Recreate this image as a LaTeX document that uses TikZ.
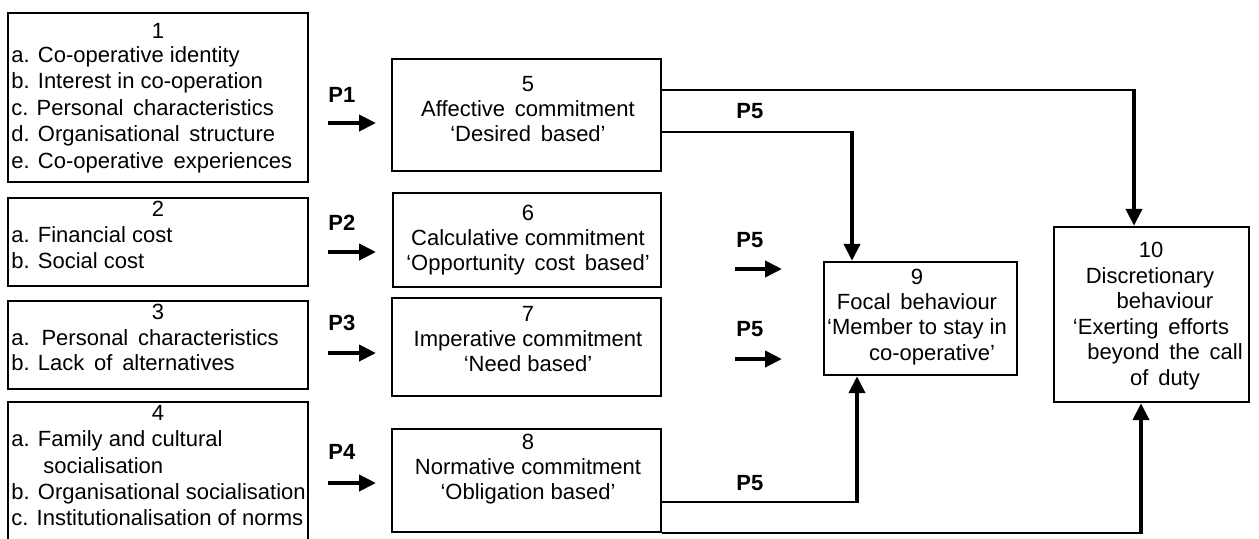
\documentclass[tikz,border=0pt]{standalone}
\usepackage{fontspec}
\setmainfont{Liberation Sans}
\usetikzlibrary{arrows.meta,fit}
\tikzset{
  box/.style={draw, line width=1.2pt, inner sep=0pt},
  txt/.style={inner sep=0pt, font=\fontsize{11}{13}\selectfont},
  plab/.style={inner sep=0pt, font=\fontsize{11}{13}\selectfont\bfseries},
  conn/.style={line width=0.9pt},
  harrow/.style={line width=2pt, -{Triangle[length=8.5pt,width=8pt]}},
}
\begin{document}
\begin{tikzpicture}[x=0.5pt,y=-0.5pt]
\useasboundingbox (0,0) rectangle (1259,538);
% ---- left boxes
\node[box, fit={(8,13) (308,182)}] (b1) {};
\node[box, fit={(8,198) (308,286)}] (b2) {};
\node[box, fit={(8,301) (308,389)}] (b3) {};
\node[box, fit={(8,402) (308,560)}] (b4) {};
% ---- middle boxes
\node[box, fit={(392,59) (661,171)}] (b5) {};
\node[box, fit={(393,193) (661,287)}] (b6) {};
\node[box, fit={(392,298) (661,396)}] (b7) {};
\node[box, fit={(392,429) (661,532)}] (b8) {};
% ---- right boxes
\node[box, fit={(824,262) (1017,375)}] (b9) {};
\node[box, fit={(1054,227) (1249,402)}] (b10) {};
% ---- texts box 1
\node[txt, anchor=mid] (t1n) at (158,33) {1};
\node[txt, anchor=mid west] (t1a) at (11,57) {a. Co-operative identity};
\node[txt, anchor=mid west] (t1b) at (11,83) {b. Interest in co-operation};
\node[txt, anchor=mid west] (t1c) at (11,110) {c. Personal\, characteristics};
\node[txt, anchor=mid west] (t1d) at (11,136) {d. Organisational\, structure};
\node[txt, anchor=mid west] (t1e) at (11,163) {e. Co-operative\, experiences};
% box 2
\node[txt, anchor=mid] (t2n) at (158,211) {2};
\node[txt, anchor=mid west] (t2a) at (11,237) {a. Financial cost};
\node[txt, anchor=mid west] (t2b) at (11,263) {b. Social cost};
% box 3
\node[txt, anchor=mid] (t3n) at (158,314) {3};
\node[txt, anchor=mid west] (t3a) at (11,340) {a.\, Personal\, characteristics};
\node[txt, anchor=mid west] (t3b) at (11,365) {b. Lack\, of\, alternatives};
% box 4
\node[txt, anchor=mid] (t4n) at (158,415) {4};
\node[txt, anchor=mid west] (t4a) at (11,441) {a. Family and cultural};
\node[txt, anchor=mid west] (t4a2) at (43,468) {socialisation};
\node[txt, anchor=mid west] (t4b) at (11,494) {b. Organisational socialisation};
\node[txt, anchor=mid west] (t4c) at (11,520) {c. Institutionalisation of norms};
% box 5..8
\node[txt, anchor=mid] (t5n) at (528,86) {5};
\node[txt, anchor=mid] (t5a) at (528,111) {Affective\, commitment};
\node[txt, anchor=mid] (t5b) at (528,136) {‘Desired\, based’};
\node[txt, anchor=mid] (t6n) at (528,215) {6};
\node[txt, anchor=mid] (t6a) at (528,240) {Calculative commitment};
\node[txt, anchor=mid] (t6b) at (528,265) {‘Opportunity\, cost\, based’};
\node[txt, anchor=mid] (t7n) at (528,316) {7};
\node[txt, anchor=mid] (t7a) at (528,341) {Imperative commitment};
\node[txt, anchor=mid] (t7b) at (528,366) {‘Need based’};
\node[txt, anchor=mid] (t8n) at (528,444) {8};
\node[txt, anchor=mid] (t8a) at (528,469) {Normative commitment};
\node[txt, anchor=mid] (t8b) at (528,494) {‘Obligation based’};
% box 9
\node[txt, anchor=mid] (t9n) at (917,279) {9};
\node[txt, anchor=mid] (t9a) at (917,304) {Focal\, behaviour};
\node[txt, anchor=mid] (t9b) at (917,329) {‘Member to stay in};
\node[txt, anchor=mid] (t9c) at (932,355) {co-operative’};
% box 10
\node[txt, anchor=mid] (t10n) at (1151,252) {10};
\node[txt, anchor=mid] (t10a) at (1150,278) {Discretionary};
\node[txt, anchor=mid] (t10b) at (1165,303) {behaviour};
\node[txt, anchor=mid] (t10c) at (1151,329) {‘Exerting\, efforts};
\node[txt, anchor=mid] (t10d) at (1165,354) {beyond\, the\, call};
\node[txt, anchor=mid] (t10e) at (1165,380) {of\, duty};
% ---- P labels
\node[plab, anchor=mid west] (p1) at (328,97) {P1};
\node[plab, anchor=mid west] (p2) at (328,225) {P2};
\node[plab, anchor=mid west] (p3) at (328,325) {P3};
\node[plab, anchor=mid west] (p4) at (328,454) {P4};
\node[plab, anchor=mid west] (p5a) at (736,113) {P5};
\node[plab, anchor=mid west] (p5b) at (736,242) {P5};
\node[plab, anchor=mid west] (p5c) at (736,331) {P5};
\node[plab, anchor=mid west] (p5d) at (736,485) {P5};
% ---- short arrows
\coordinate (a1) at (328,123);
\coordinate (a2) at (328,252);
\coordinate (a3) at (328,353);
\coordinate (a4) at (328,483);
\coordinate (e1) at (376,123);
\coordinate (e2) at (376,252);
\coordinate (e3) at (376,353);
\coordinate (e4) at (376,483);
\draw[harrow] (a1) -- (e1);
\draw[harrow] (a2) -- (e2);
\draw[harrow] (a3) -- (e3);
\draw[harrow] (a4) -- (e4);
\coordinate (a5) at (735,269);
\coordinate (e5) at (782,269);
\coordinate (a6) at (735,359);
\coordinate (e6) at (782,359);
\draw[harrow] (a5) -- (e5);
\draw[harrow] (a6) -- (e6);
% ---- long connectors
\coordinate (c1) at (1134,90);
\coordinate (c2) at (852,132);
\coordinate (c3) at (857,502);
\coordinate (c4) at (1141,533);
\draw[conn] (b5.east |- c1) -- (c1);
\draw[harrow] ([yshift=0.45pt]c1) -- (c1 |- b10.north);
\draw[conn] (b5.east |- c2) -- (c2);
\draw[harrow] ([yshift=0.45pt]c2) -- (c2 |- b9.north);
\draw[conn] (b8.east |- c3) -- (c3);
\draw[harrow] ([yshift=-0.45pt]c3) -- (c3 |- b9.south);
\draw[conn] (b8.south east |- c4) -- (c4);
\draw[harrow] ([yshift=-0.45pt]c4) -- (c4 |- b10.south);
\end{tikzpicture}
\end{document}
